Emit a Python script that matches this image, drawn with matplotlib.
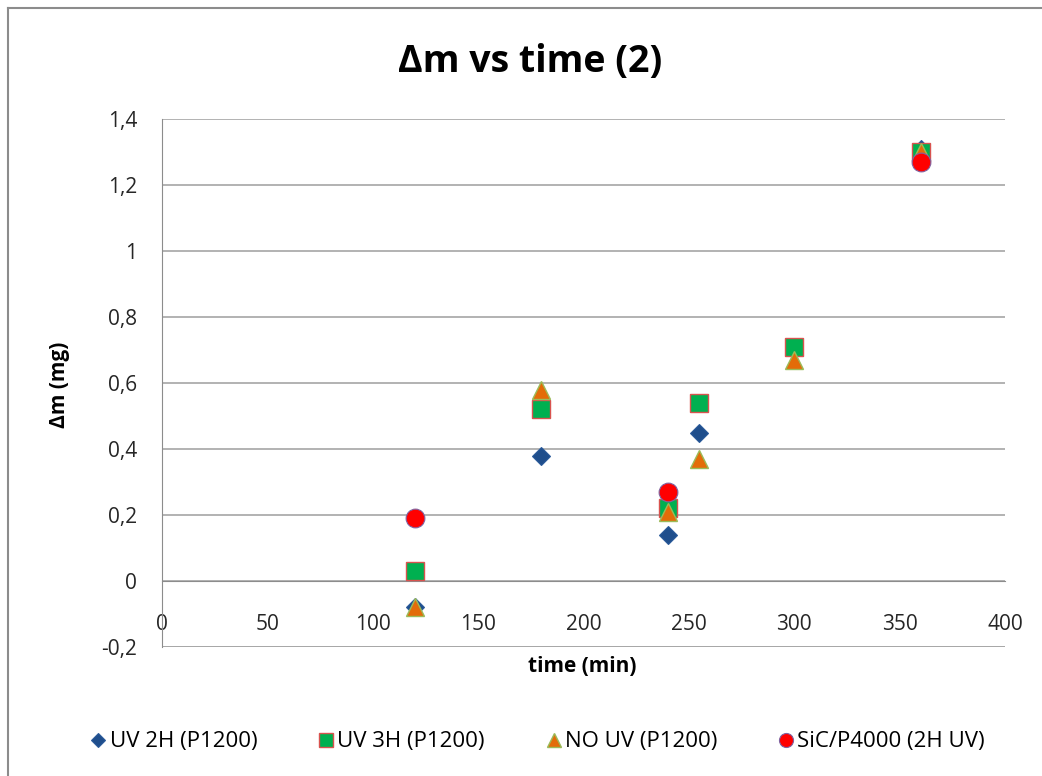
import numpy as np
import matplotlib.pyplot as plt
from matplotlib.lines import Line2D

plt.rcParams['font.family'] = ['Open Sans', 'DejaVu Sans']

# data
t_uv2 = [120, 180, 240, 255, 360]
m_uv2 = [-0.08, 0.38, 0.14, 0.45, 1.31]

t_uv3 = [120, 180, 240, 255, 300, 360]
m_uv3 = [0.03, 0.52, 0.22, 0.54, 0.71, 1.30]

t_nouv = [120, 180, 240, 255, 300, 360]
m_nouv = [-0.08, 0.58, 0.21, 0.37, 0.67, 1.30]

t_sic = [120, 240, 360]
m_sic = [0.19, 0.27, 1.27]

labels = ['UV 2H (P1200)', 'UV 3H (P1200)', 'NO UV (P1200)', 'SiC/P4000 (2H UV)']

fig = plt.figure(figsize=(10.42, 7.76), dpi=100)
ax = fig.add_axes([162/1042, 1 - 647/776, (1005 - 162)/1042, (647 - 119)/776])

ax.plot(t_uv2, m_uv2, 'D', ms=9.5, color='#1F4E8C', mec='#2A5A9A', mew=0.8, label=labels[0], zorder=3)
ax.plot(t_uv3, m_uv3, 's', ms=13, color='#00B050', mec='#D9534F', mew=1.0, label=labels[1], zorder=4)
ax.plot(t_nouv, m_nouv, '^', ms=13.5, color='#E36C09', mec='#9BBB59', mew=1.0, label=labels[2], zorder=5)
ax.plot(t_sic, m_sic, 'o', ms=13.5, color='#FF0000', mec='#8064A2', mew=0.8, label=labels[3], zorder=6)

ax.set_xlim(0, 400)
ax.set_ylim(-0.2, 1.4)
ax.set_xticks(np.arange(0, 401, 50))
yt = np.arange(-0.2, 1.41, 0.2)
ax.set_yticks(yt)
ax.set_yticklabels([('%g' % round(v, 1)).replace('.', ',') for v in yt])

ax.grid(axis='y', color='#A6A6A6', lw=1.2)
ax.set_axisbelow(True)
for s in ['top', 'right']:
    ax.spines[s].set_visible(False)
ax.spines['bottom'].set_position(('data', 0))
ax.spines['bottom'].set_color('#8C8C8C')
ax.spines['left'].set_color('#8C8C8C')
ax.axhline(-0.2, color='#A6A6A6', lw=1.2, zorder=1)
ax.tick_params(axis='x', length=0, pad=24, labelsize=15, labelcolor='#262626')
ax.tick_params(axis='y', length=0, pad=18, labelsize=15, labelcolor='#262626')

fig.text(530/1042, 1 - 62/776, 'Δm vs time (2)', ha='center', va='center',
         fontsize=27, fontweight='bold')
fig.text(582/1042, 1 - 667/776, 'time (min)', ha='center', va='center',
         fontsize=15, fontweight='bold')
fig.text(60/1042, 1 - 385/776, 'Δm (mg)', ha='center', va='center',
         fontsize=15, fontweight='bold', rotation=90)

fig.legend(loc='center', bbox_to_anchor=(536/1042, 1 - 742/776), ncol=4,
           frameon=False, fontsize=16, handletextpad=0.0, columnspacing=2.6,
           handlelength=1.0, markerscale=0.75)

# outer chart border
fig.add_artist(Line2D([8/1042, 8/1042], [0, 1 - 8/776], color='#8C8C8C', lw=1.5))
fig.add_artist(Line2D([8/1042, 1], [1 - 8/776, 1 - 8/776], color='#8C8C8C', lw=1.5))

fig.savefig('out.png', dpi=100)
